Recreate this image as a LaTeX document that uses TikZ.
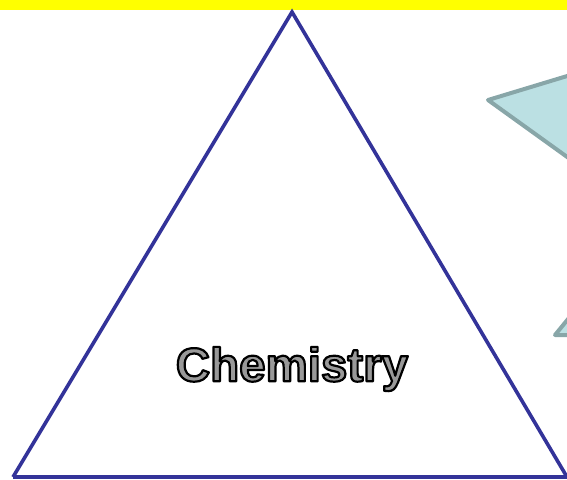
\documentclass[tikz,border=0pt]{standalone}
\usepackage{fontspec}
\setmainfont{Liberation Sans}
\definecolor{triblue}{HTML}{333399}
\definecolor{tealfill}{HTML}{BBE0E3}
\definecolor{tealline}{HTML}{88A6A8}
\definecolor{textgray}{HTML}{999999}
\definecolor{baryellow}{HTML}{FFFF00}
\newcommand{\outlinedtext}[1]{\textcolor{textgray}{\special{pdf:literal 2 Tr 0 G 2.2 w 1 j}#1\special{pdf:literal 0 Tr}}}
\begin{document}
\begin{tikzpicture}[x=1pt,y=-1pt,
  tri/.style={draw=triblue,line width=3.6pt,line join=miter},
  teal/.style={draw=tealline,fill=tealfill,line width=4pt,line join=round}]
\useasboundingbox (0,0) rectangle (567,479);
\clip (0,0) rectangle (567,479);
\fill[baryellow] (0,0) rectangle (567,10);
\draw[teal] (620,60) -- (488,100) -- (620,195);
\draw[teal] (600,280) -- (555,335) -- (620,335);
\coordinate (apex) at (292,12);
\coordinate (bl) at (13,477);
\coordinate (br) at (567,477);
\draw[tri] (bl) -- (apex) -- (br);
\draw[tri] (bl) -- (br);
\node (chem) at (292,369) {\fontsize{47.5pt}{47.5pt}\selectfont\bfseries\outlinedtext{Chemistry}};
\end{tikzpicture}
\end{document}
